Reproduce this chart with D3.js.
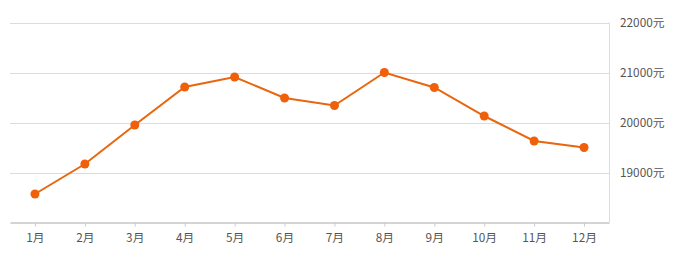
<!DOCTYPE html>
<html>
<head>
<meta charset="utf-8">
<script src="https://cdn.jsdelivr.net/npm/d3@7"></script>
<style>
  body { margin: 0; background: #fff; }
  text { font-family: "Noto Sans CJK SC", "Noto Sans", sans-serif; }
</style>
</head>
<body>
<div id="chart"></div>
<script>
// monthly prices
var months = ["1月","2月","3月","4月","5月","6月","7月","8月","9月","10月","11月","12月"];
var prices = [18570, 19170, 19950, 20710, 20910, 20490, 20340, 21000, 20700, 20130, 19630, 19500];
var yTicks = [19000, 20000, 21000, 22000];

var width = 677, height = 267;
var margin = {top: 22.5, right: 68, bottom: 44.5, left: 10};

var svg = d3.select("#chart").append("svg")
    .attr("width", width)
    .attr("height", height);

var x = d3.scalePoint()
    .domain(months)
    .range([margin.left, width - margin.right])
    .padding(0.5);

var y = d3.scaleLinear()
    .domain([18000, 22000])
    .range([height - margin.bottom, margin.top]);

// gridlines
svg.append("g")
    .selectAll("line")
    .data(yTicks)
    .enter().append("line")
    .attr("x1", margin.left)
    .attr("x2", width - margin.right)
    .attr("y1", function(d) { return Math.round(y(d)) + 0.5; })
    .attr("y2", function(d) { return Math.round(y(d)) + 0.5; })
    .attr("stroke", "#dcdcdc")
    .attr("stroke-width", 1);

// right axis line
svg.append("line")
    .attr("x1", width - margin.right + 0.5)
    .attr("x2", width - margin.right + 0.5)
    .attr("y1", y(22000))
    .attr("y2", y(18000))
    .attr("stroke", "#dcdcdc");

// y labels on the right
svg.append("g")
    .selectAll("text")
    .data(yTicks)
    .enter().append("text")
    .attr("x", width - margin.right + 11)
    .attr("y", function(d) { return y(d); })
    .attr("dy", "0.35em")
    .attr("font-size", "11.8px")
    .attr("fill", "#555")
    .text(function(d) { return d + "元"; });

// bottom axis
var xAxis = svg.append("g")
    .attr("transform", "translate(0," + (height - margin.bottom) + ")")
    .call(d3.axisBottom(x).tickSize(4).tickPadding(7).tickSizeOuter(0));

xAxis.select(".domain")
    .attr("stroke", "#d4d4d4")
    .attr("stroke-width", 2);
xAxis.selectAll(".tick line").attr("stroke", "#ccc");
xAxis.selectAll(".tick text")
    .attr("font-size", "11.8px")
    .attr("fill", "#555")
    .style("font-family", "'Noto Sans CJK SC', sans-serif");

// price line
var line = d3.line()
    .x(function(d, i) { return x(months[i]); })
    .y(function(d) { return y(d); });

svg.append("path")
    .datum(prices)
    .attr("d", line)
    .attr("fill", "none")
    .attr("stroke", "#e8660e")
    .attr("stroke-width", 2);

svg.append("g")
    .selectAll("circle")
    .data(prices)
    .enter().append("circle")
    .attr("cx", function(d, i) { return x(months[i]); })
    .attr("cy", function(d) { return y(d); })
    .attr("r", 4.5)
    .attr("fill", "#f0600a");
</script>
</body>
</html>
